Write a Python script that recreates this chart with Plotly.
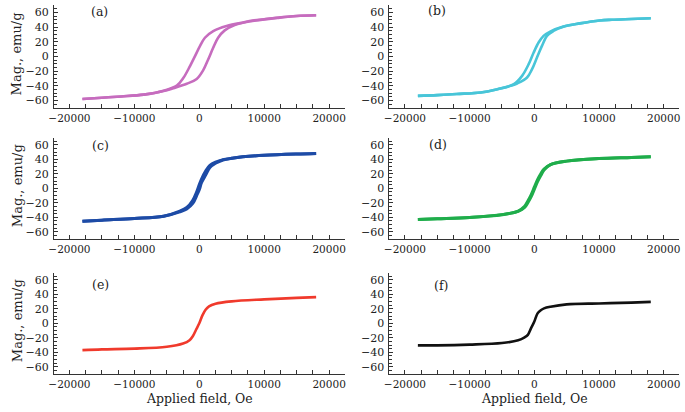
import plotly.graph_objects as go

# ---------------- data ----------------
a_desc_H = [18000, 15000, 12000, 10000, 6700, 4200, 2150, 870, 100, -660, -1430, -2440, -3460, -5500, -8550, -12000, -15000, -18000]
a_desc_M = [56, 55, 52.5, 50.5, 46, 41.4, 34.5, 25.5, 14, 0.5, -13, -29, -39.6, -46.4, -51.8, -54.3, -56, -57.7]
a_asc_H = [-18000, -15000, -12000, -8550, -5500, -3970, -1930, -400, 610, 1370, 2140, 2900, 3920, 5450, 7740, 10000, 12000, 15000, 18000]
a_asc_M = [-57.7, -56, -54.3, -51.8, -47, -43, -37, -30.5, -18.5, -4, 11.8, 25.5, 35.5, 42.7, 48.2, 50.7, 52.7, 55, 56]

b_desc_H = [18000, 15000, 12000, 10100, 7050, 4490, 2450, 1430, 660, -100, -870, -1890, -3170, -5720, -8280, -12000, -15000, -18000]
b_desc_M = [52, 51, 50, 49, 45, 40.7, 33.9, 28, 19, 5.4, -10.4, -26.3, -37.6, -44.4, -48.9, -51, -52.5, -53.5]
b_asc_H = [-18000, -15000, -12000, -8280, -5720, -3500, -2660, -1120, -350, 410, 1180, 1950, 2960, 4490, 7050, 10100, 12000, 15000, 18000]
b_asc_M = [-53.5, -52.5, -51, -48.9, -44.6, -39.5, -36.7, -28.5, -17.2, -1.4, 14.4, 28, 34.7, 40.5, 45, 49, 50, 51, 52]

c_desc_H = [18000, 15000, 10000, 6700, 5000, 3660, 2500, 1630, 1000, 360, 0, -400, -1000, -1930, -3000, -5500, -10000, -15000, -18000]
c_desc_M = [48, 47.3, 45.5, 43.3, 41.3, 39.5, 36, 31.5, 24, 13, 5, -5, -16.5, -26.5, -31.5, -38.5, -41.8, -44, -45.5]
c_asc_H = [-18000, -15000, -10000, -5500, -3000, -1930, -1000, -400, 0, 360, 1000, 1630, 2500, 3660, 5000, 6700, 10000, 15000, 18000]
c_asc_M = [-45.5, -44, -41.8, -38.5, -32.5, -28.5, -21, -10, -2, 8, 18.5, 28.5, 34.5, 39, 41.3, 43.3, 45.5, 47.3, 48]

d_desc_H = [18000, 15000, 10000, 5000, 2500, 1500, 1000, 500, 0, -500, -1000, -1500, -2500, -5000, -10000, -15000, -18000]
d_desc_M = [43.5, 42.5, 41, 37.4, 32.7, 26.5, 20, 12, 1.5, -9, -17.5, -25, -31.5, -36.4, -40.2, -42, -43]
d_asc_H = [-18000, -15000, -10000, -5000, -2500, -1500, -1000, -500, 0, 500, 1000, 1500, 2500, 5000, 10000, 15000, 18000]
d_asc_M = [-43, -42, -40.2, -36.4, -32, -26.5, -20, -12, -1.5, 9, 17.5, 25, 32.5, 37.4, 41, 42.5, 43.5]

e_H = [-18000, -15000, -10000, -5000, -2500, -1500, -1000, -500, 0, 500, 1000, 1500, 2500, 5000, 10000, 15000, 18000]
e_M = [-37, -36, -35, -32.4, -28, -23.4, -18, -9, 0, 11.3, 19, 23.4, 27, 30.2, 32.9, 35, 36]

f_H = [-18000, -15000, -10000, -5000, -2500, -1500, -1000, -500, 0, 500, 1000, 1500, 2500, 5000, 10000, 15000, 18000]
f_M = [-30.5, -30.5, -29.5, -27.3, -23.6, -19.5, -16, -6.8, 2.3, 13.6, 18, 20.5, 22.7, 26, 27.3, 28.5, 29.5]

panel_labels = ["(a)", "(b)", "(c)", "(d)", "(e)", "(f)"]
x_tickvals = [-20000, -10000, 0, 10000, 20000]
x_ticktext = ["\u221220000", "\u221210000", "0", "10000", "20000"]
y_tickvals = [-60, -40, -20, 0, 20, 40, 60]
y_ticktext = ["\u221260", "\u221240", "\u221220", "0", "20", "40", "60"]
y_title = "Mag., emu/g"
x_title = "Applied field, Oe"

# ---------------- layout / styling ----------------
W, H = 685, 412
FONT = "DejaVu Serif"
colors = ["#c66cbe", "#48c5d8", "#1d4ba6", "#1fad4b", "#f03a2c", "#111111"]
widths = [2.6, 2.6, 3.0, 3.0, 2.6, 2.6]

panels = [
    [(a_desc_H, a_desc_M), (a_asc_H, a_asc_M)],
    [(b_desc_H, b_desc_M), (b_asc_H, b_asc_M)],
    [(c_desc_H, c_desc_M), (c_asc_H, c_asc_M)],
    [(d_desc_H, d_desc_M), (d_asc_H, d_asc_M)],
    [(e_H, e_M)],
    [(f_H, f_M)],
]

# pixel geometry of each panel: (left, right, top, bottom)
col_x = [(49.3, 342.7), (387.8, 680.2)]
row_y = [(5, 108), (137.5, 239), (272.5, 374)]
label_pos = [(-15300, 61), (-15000, 62), (-15200, 59), (-14900, 61), (-15200, 53), (-14500, 52)]

fig = go.Figure()
layout = dict(
    width=W, height=H, margin=dict(l=0, r=0, t=0, b=0),
    paper_bgcolor="white", plot_bgcolor="white", showlegend=False,
    font=dict(family=FONT, size=11, color="#222"),
)
annotations = []

for i, branches in enumerate(panels):
    r, c = divmod(i, 2)
    n = i + 1
    xa = "xaxis" if n == 1 else f"xaxis{n}"
    ya = "yaxis" if n == 1 else f"yaxis{n}"
    xref = "x" if n == 1 else f"x{n}"
    yref = "y" if n == 1 else f"y{n}"
    for hx, my in branches:
        fig.add_trace(go.Scatter(
            x=hx, y=my, mode="lines", xaxis=xref, yaxis=yref,
            line=dict(color=colors[i], width=widths[i], shape="spline", smoothing=1.0),
            hoverinfo="skip",
        ))
    x0, x1 = col_x[c]
    yt, yb = row_y[r]
    layout[xa] = dict(
        domain=[x0 / W, x1 / W], anchor=yref, range=[-22400, 22400],
        showline=True, linecolor="#333", linewidth=1, showgrid=False, zeroline=False,
        ticks="inside", ticklen=4, tickcolor="#333",
        tickvals=x_tickvals, ticktext=x_ticktext,
        minor=dict(dtick=2500, tick0=0, ticks="inside", ticklen=4, tickcolor="#333"),
        tickfont=dict(family=FONT, size=10.5, color="#222"),
        fixedrange=True,
    )
    layout[ya] = dict(
        domain=[1 - yb / H, 1 - yt / H], anchor=xref, range=[-70, 70],
        showline=True, linecolor="#333", linewidth=1, showgrid=False, zeroline=False,
        ticks="inside", ticklen=4, tickcolor="#333",
        tickvals=y_tickvals, ticktext=y_ticktext,
        minor=dict(dtick=5, tick0=0, ticks="inside", ticklen=3, tickcolor="#333"),
        tickfont=dict(family=FONT, size=11, color="#222"),
        ticklabelstandoff=2,
        fixedrange=True,
    )
    lx, ly = label_pos[i]
    annotations.append(dict(
        x=lx, y=ly, xref=xref, yref=yref, text=panel_labels[i], showarrow=False,
        font=dict(family=FONT, size=12.5, color="#222"), xanchor="center", yanchor="middle",
    ))
    if c == 0:
        annotations.append(dict(
            x=12 / W, y=1 - ((yt + yb) / 2 - 3) / H, xref="paper", yref="paper",
            text=y_title, textangle=-90, showarrow=False,
            font=dict(family=FONT, size=13, color="#222"), xanchor="center", yanchor="middle",
        ))
    if r == 2:
        annotations.append(dict(
            x=0, y=1 - 398 / H, xref=xref, yref="paper", text=x_title, showarrow=False,
            font=dict(family=FONT, size=12.5, color="#222"), xanchor="center", yanchor="middle",
        ))

layout["annotations"] = annotations
fig.update_layout(**layout)
fig.write_html(
    "out.html",
    config={"displayModeBar": False, "staticPlot": True},
    post_script="document.body.style.margin='0';document.body.style.overflow='hidden';",
)
